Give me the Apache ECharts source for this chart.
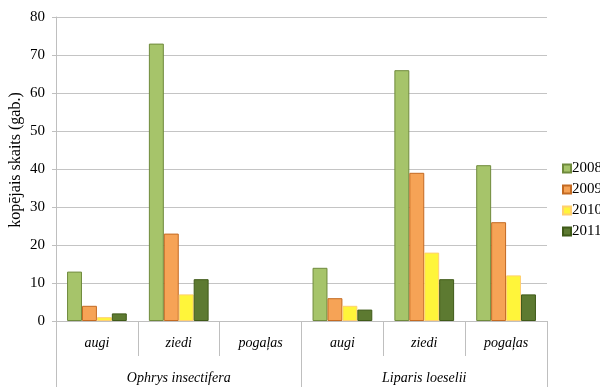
<!DOCTYPE html>
<html>
<head>
<meta charset="utf-8">
<script src="https://cdn.jsdelivr.net/npm/echarts@6/dist/echarts.min.js"></script>
<style>html,body{margin:0;padding:0;background:#fff}#c{width:600px;height:387px}</style>
</head>
<body>
<div id="c"></div>
<script>
// Stage categories (inner row) and species groups (outer row)
const stages = ['augi', 'ziedi', 'pogaļas', 'augi', 'ziedi', 'pogaļas'];
const species = ['Ophrys insectifera', 'Liparis loeselii'];
const years = ['2008', '2009', '2010', '2011'];

// Counts per year, one value per stage category
const v2008 = [13, 73, 0, 14, 66, 41];
const v2009 = [4, 23, 0, 6, 39, 26];
const v2010 = [1, 7, 0, 4, 18, 12];
const v2011 = [2, 11, 0, 3, 11, 7];

const yTicks = { min: 0, max: 80, interval: 10 };

const fills = ['#a6c46a', '#f6a356', '#fff53a', '#5d7a31'];
const borders = ['#6f8a3c', '#c46a22', '#ffd070', '#3f5a18'];
const values = [v2008, v2009, v2010, v2011];

const serif = '"Liberation Serif", "DejaVu Serif", serif';
const axisGray = '#bfbfbf';
const chart = echarts.init(document.getElementById('c'), null, { renderer: 'canvas' });

// zero counts get no outline so no flat sliver is drawn
const toItems = arr => arr.map(v => (v === 0 ? { value: v, itemStyle: { borderWidth: 0 } } : v));

chart.setOption({
  animation: false,
  textStyle: { fontFamily: serif },
  grid: { left: 56, right: 53, top: 17, bottom: 66, containLabel: false, outerBoundsMode: 'none' },
  legend: {
    orient: 'vertical',
    left: 562,
    top: 161,
    padding: 0,
    itemWidth: 8,
    itemHeight: 8,
    itemGap: 6,
    icon: 'rect',
    data: years,
    textStyle: { fontFamily: serif, fontSize: 15, color: '#000', lineHeight: 15, padding: [0, 0, 0, -4] }
  },
  xAxis: [
    {
      type: 'category',
      data: stages,
      position: 'bottom',
      axisLine: { show: true, lineStyle: { color: axisGray } },
      axisTick: { show: true, interval: 0, length: 35, lineStyle: { color: axisGray } },
      axisLabel: { interval: 0, fontFamily: serif, fontStyle: 'italic', fontSize: 14, color: '#000', margin: 15 }
    },
    {
      type: 'category',
      data: species,
      position: 'bottom',
      offset: 35,
      axisLine: { show: false },
      axisTick: { show: true, interval: 0, length: 31, lineStyle: { color: axisGray } },
      axisLabel: { interval: 0, fontFamily: serif, fontStyle: 'italic', fontSize: 14, color: '#000', margin: 15 }
    }
  ],
  yAxis: {
    type: 'value',
    min: yTicks.min,
    max: yTicks.max,
    interval: yTicks.interval,
    name: 'kopējais skaits (gab.)',
    nameLocation: 'middle',
    nameRotate: 90,
    nameGap: 32,
    nameMoveOverlap: false,
    nameTextStyle: { fontFamily: serif, fontSize: 16, color: '#000', padding: [0, 0, 0, 18] },
    axisLine: { show: true, lineStyle: { color: axisGray } },
    axisTick: { show: true, length: 4, lineStyle: { color: axisGray } },
    axisLabel: { fontFamily: serif, fontSize: 15, color: '#000', margin: 11 },
    splitLine: { lineStyle: { color: '#c4c4c4' } }
  },
  series: years.map((y, i) => ({
    name: y,
    type: 'bar',
    xAxisIndex: 0,
    data: toItems(values[i]),
    barGap: '0%',
    barCategoryGap: '27%',
    itemStyle: { color: fills[i], borderColor: borders[i], borderWidth: 1 }
  }))
});
</script>
</body>
</html>
